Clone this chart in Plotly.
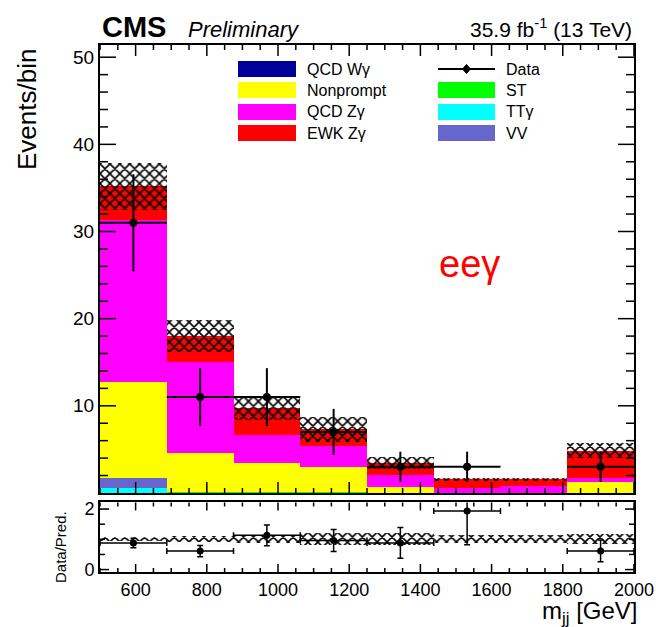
import numpy as np
import plotly.graph_objects as go

# m_jj binning [GeV]
bin_edges = [500, 687.5, 875, 1062.5, 1250, 1437.5, 1625, 1812.5, 2000]

# Expected yields per bin (events/bin), stacked bottom -> top
st        = [0.00, 0.10, 0.10, 0.10, 0.05, 0.05, 0.05, 0.05]
ttg       = [0.55, 0.00, 0.00, 0.00, 0.00, 0.00, 0.00, 0.00]
vv        = [1.15, 0.00, 0.00, 0.00, 0.00, 0.00, 0.00, 0.00]
qcd_wg    = [0.00, 0.00, 0.00, 0.00, 0.00, 0.00, 0.00, 0.00]
nonprompt = [11.05, 4.50, 3.30, 2.90, 0.60, 0.00, 0.00, 1.15]
qcd_zg    = [18.60, 10.40, 3.25, 2.40, 1.45, 0.50, 0.75, 0.50]
ewk_zg    = [3.85, 3.00, 3.05, 1.90, 1.30, 1.00, 0.77, 3.15]
# total uncertainty on the prediction
bkg_unc   = [2.70, 1.80, 1.30, 1.40, 0.70, 0.20, 0.20, 0.85]
# observed events
data      = [31, 11, 11, 7, 3, 3, 0, 3]

components = [
    ("ST", st, "#00ff00"),
    ("TT\u03b3", ttg, "#00ffff"),
    ("VV", vv, "#6666cc"),
    ("QCD W\u03b3", qcd_wg, "#000099"),
    ("Nonprompt", nonprompt, "#ffff00"),
    ("QCD Z\u03b3", qcd_zg, "#ff00ff"),
    ("EWK Z\u03b3", ewk_zg, "#ff0000"),
]

edges = np.array(bin_edges)
centers = 0.5 * (edges[:-1] + edges[1:])
widths = np.diff(edges)
half = widths / 2

fig = go.Figure()

# stacked prediction
base = np.zeros(len(centers))
for name, vals, col in components:
    v = np.array(vals, dtype=float)
    fig.add_trace(go.Bar(
        x=centers, y=v, base=base.copy(), width=widths, name=name,
        marker=dict(color=col, line=dict(width=0)),
        showlegend=False, xaxis="x", yaxis="y",
    ))
    base = base + v
total = base
unc = np.array(bkg_unc)

hatch = dict(shape="x", fgcolor="black", bgcolor="rgba(0,0,0,0)",
             size=7, solidity=0.4, fillmode="replace")

# uncertainty band on the stack
fig.add_trace(go.Bar(
    x=centers, y=2 * unc, base=total - unc, width=widths,
    marker=dict(color="rgba(0,0,0,0)", line=dict(width=0), pattern=hatch),
    showlegend=False, xaxis="x", yaxis="y",
))

# data points (empty bins are not drawn)
d = np.array(data, dtype=float)
mask = d > 0
fig.add_trace(go.Scatter(
    x=centers[mask], y=d[mask], mode="markers",
    marker=dict(color="black", size=8, symbol="circle"),
    error_y=dict(type="data", array=np.sqrt(d[mask]), width=0, thickness=2, color="black"),
    error_x=dict(type="data", array=half[mask], width=0, thickness=2, color="black"),
    showlegend=False, xaxis="x", yaxis="y",
))

# ratio panel: band and data/prediction
rel = unc / total
fig.add_trace(go.Bar(
    x=centers, y=2 * rel, base=1 - rel, width=widths,
    marker=dict(color="rgba(0,0,0,0)", line=dict(width=0), pattern=hatch),
    showlegend=False, xaxis="x2", yaxis="y2",
))
ratio = d / total
ratio_err = np.sqrt(d) / total
fig.add_trace(go.Scatter(
    x=centers[mask], y=ratio[mask], mode="markers",
    marker=dict(color="black", size=7, symbol="circle"),
    error_y=dict(type="data", array=ratio_err[mask], width=3, thickness=1.5, color="black"),
    error_x=dict(type="data", array=half[mask], width=3, thickness=1.5, color="black"),
    showlegend=False, xaxis="x2", yaxis="y2",
))

FONT = "Liberation Sans, Arial, sans-serif"
W, H = 656, 627
ML, MR, MT, MB = 100, 22, 45, 55
PW, PH = W - ML - MR, H - MT - MB
MAIN_DOM = [0.15, 1.0]
RATIO_DOM = [0.0, 0.132]
X_RANGE = [499.9, 2000.1]


def px(xp):
    return (xp - ML) / PW


def py(yp):
    return (H - MB - yp) / PH


frame = dict(showline=True, linecolor="#000000", linewidth=2, mirror=True,
             ticks="", showgrid=False, zeroline=False)

fig.update_layout(
    width=W, height=H,
    margin=dict(l=ML, r=MR, t=MT, b=MB, autoexpand=False),
    plot_bgcolor="white",
    barmode="overlay", bargap=0,
    font=dict(family=FONT),
    showlegend=False,
    xaxis=dict(range=X_RANGE, anchor="y", showticklabels=False,
               tick0=0, dtick=200, **frame),
    yaxis=dict(domain=MAIN_DOM, range=[0, 51.4], anchor="x",
               tickvals=[10, 20, 30, 40, 50],
               tickfont=dict(size=19, color="#000000"), **frame),
    xaxis2=dict(range=X_RANGE, anchor="y2", matches="x",
                tick0=0, dtick=200, tickfont=dict(size=18, color="#000000"), **frame),
    yaxis2=dict(domain=RATIO_DOM, range=[-0.08, 2.22], anchor="x2",
                tickvals=[0, 2], tickfont=dict(size=18, color="#000000"), **frame),
)

# ROOT-style inner tick marks on all four sides of both pads
shapes = []
tick_line = dict(color="#000000", width=1.5)


def x_ticks(xref, yref, dom, major_len, minor_len):
    pad_h = (dom[1] - dom[0]) * PH
    for v in np.arange(500, 2001, 50):
        ln = major_len if v % 200 == 0 else minor_len
        f = ln / pad_h
        for y0, y1 in ((0, f), (1, 1 - f)):
            shapes.append(dict(type="line", xref=xref, yref=yref + " domain",
                               x0=v, x1=v, y0=y0, y1=y1, line=tick_line))


def y_ticks(xref, yref, values, majors, major_len, minor_len):
    for v in values:
        ln = major_len if v in majors else minor_len
        f = ln / PW
        for x0, x1 in ((0, f), (1, 1 - f)):
            shapes.append(dict(type="line", xref=xref + " domain", yref=yref,
                               x0=x0, x1=x1, y0=v, y1=v, line=tick_line))


x_ticks("x", "y", MAIN_DOM, 11, 5)
y_ticks("x", "y", list(range(2, 51, 2)), {10, 20, 30, 40, 50}, 16, 8)
x_ticks("x2", "y2", RATIO_DOM, 8, 4)
y_ticks("x2", "y2", [0, 0.5, 1.0, 1.5, 2.0], {0, 2.0}, 9, 5)

ann = []
# header
ann.append(dict(text="<b>CMS</b>", x=px(100), y=py(27), xref="paper", yref="paper",
                xanchor="left", yanchor="middle", showarrow=False,
                font=dict(size=29, family=FONT, color="#000000")))
ann.append(dict(text="<i>Preliminary</i>", x=px(186), y=py(29), xref="paper", yref="paper",
                xanchor="left", yanchor="middle", showarrow=False,
                font=dict(size=22, family=FONT, color="#000000")))
ann.append(dict(text="35.9 fb<sup>-1</sup> (13 TeV)", x=px(634), y=py(28), xref="paper",
                yref="paper", xanchor="right", yanchor="middle", showarrow=False,
                font=dict(size=21, family=FONT, color="#000000")))
# axis titles
ann.append(dict(text="Events/bin", x=px(27), y=py(110), xref="paper", yref="paper",
                textangle=-90, xanchor="center", yanchor="middle", showarrow=False,
                font=dict(size=26, family=FONT, color="#000000")))
ann.append(dict(text="Data/Pred.", x=px(60), y=py(547), xref="paper", yref="paper",
                textangle=-90, xanchor="center", yanchor="middle", showarrow=False,
                font=dict(size=15, family=FONT, color="#000000")))
ann.append(dict(text="m<sub>jj</sub> [GeV]", x=px(640), y=py(612), xref="paper", yref="paper",
                xanchor="right", yanchor="middle", showarrow=False,
                font=dict(size=24, family=FONT, color="#000000")))
# channel label
ann.append(dict(text="ee\u03b3", x=px(437), y=py(264), xref="paper", yref="paper",
                xanchor="left", yanchor="middle", showarrow=False,
                font=dict(size=38, family=FONT, color="#ff0000")))

# legend (two columns)
legend_left = [("QCD W\u03b3", "#000099"), ("Nonprompt", "#ffff00"),
               ("QCD Z\u03b3", "#ff00ff"), ("EWK Z\u03b3", "#ff0000")]
legend_right = [("Data", None), ("ST", "#00ff00"), ("TT\u03b3", "#00ffff"), ("VV", "#6666cc")]
row_tops = [61, 82, 104, 125]
box_h = 16
for (lab, col), top in zip(legend_left, row_tops):
    shapes.append(dict(type="rect", xref="paper", yref="paper",
                       x0=px(238), x1=px(296), y0=py(top + box_h), y1=py(top),
                       fillcolor=col, line=dict(width=0)))
    ann.append(dict(text=lab, x=px(305), y=py(top + box_h / 2), xref="paper", yref="paper",
                    xanchor="left", yanchor="middle", showarrow=False,
                    font=dict(size=16, family=FONT, color="#000000")))
for (lab, col), top in zip(legend_right, row_tops):
    yc = top + box_h / 2
    if col is None:
        shapes.append(dict(type="line", xref="paper", yref="paper",
                           x0=px(438), x1=px(495), y0=py(yc), y1=py(yc),
                           line=dict(color="black", width=2)))
        shapes.append(dict(type="path", xref="paper", yref="paper",
                           path="M {a},{b} L {c},{d} L {a},{e} L {f},{d} Z".format(
                               a=px(466.5), b=py(yc - 4.5), c=px(470.5), d=py(yc),
                               e=py(yc + 4.5), f=px(462.5)),
                           fillcolor="black", line=dict(color="black", width=1)))
    else:
        shapes.append(dict(type="rect", xref="paper", yref="paper",
                           x0=px(438), x1=px(495), y0=py(top + box_h), y1=py(top),
                           fillcolor=col, line=dict(width=0)))
    ann.append(dict(text=lab, x=px(504), y=py(yc), xref="paper", yref="paper",
                    xanchor="left", yanchor="middle", showarrow=False,
                    font=dict(size=16, family=FONT, color="#000000")))

fig.update_layout(annotations=ann, shapes=shapes)
fig.write_html("out.html")
